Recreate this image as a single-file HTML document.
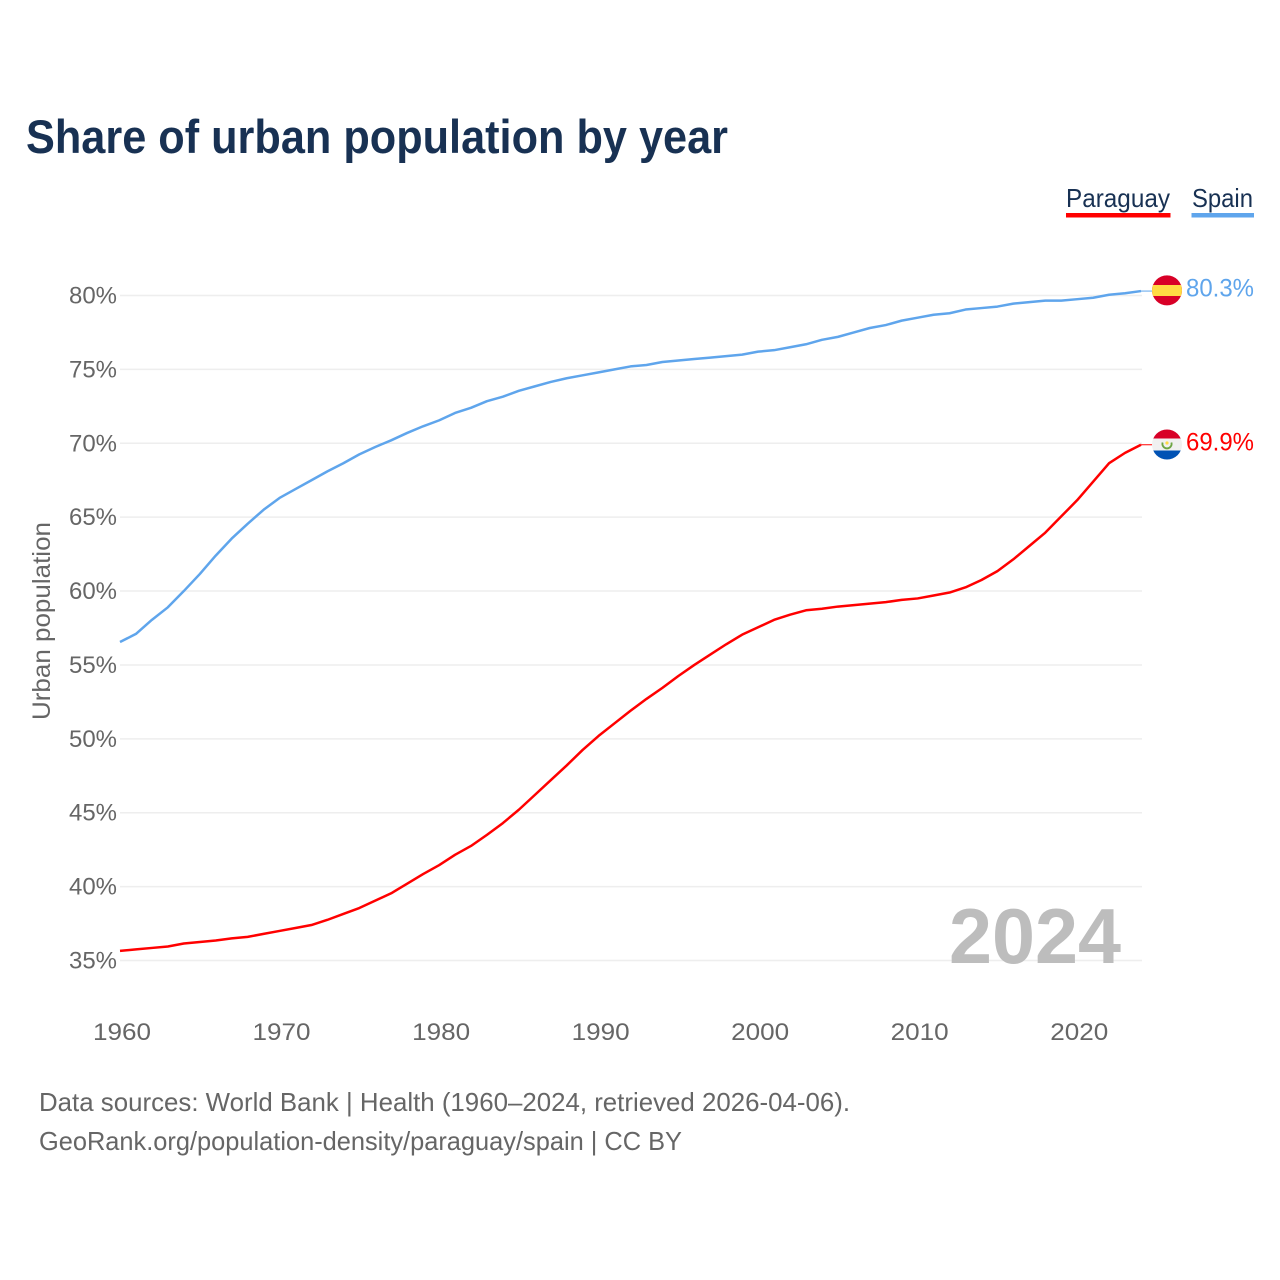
<!DOCTYPE html>
<html lang="en">
<head>
<meta charset="utf-8">
<title>Share of urban population by year</title>
<style>
html,body{margin:0;padding:0;background:#fff;width:1280px;height:1280px;overflow:hidden}
svg{display:block;font-family:"Liberation Sans",sans-serif}
</style>
</head>
<body>
<svg id="chart" xmlns="http://www.w3.org/2000/svg" width="1280" height="1280" viewBox="0 0 1280 1280">
  <rect width="1280" height="1280" fill="#ffffff"/>
  <text x="26" y="153" font-size="47" font-weight="700" fill="#183153" textLength="702" lengthAdjust="spacingAndGlyphs">Share of urban population by year</text>

  <g>
    <g>
      <text x="1066" y="207" font-size="26" fill="#183153" textLength="104" lengthAdjust="spacingAndGlyphs">Paraguay</text>
      <rect x="1066" y="213" width="104.5" height="4.5" fill="#ff0000"/>
    </g>
    <g>
      <text x="1192" y="207" font-size="26" fill="#183153" textLength="61" lengthAdjust="spacingAndGlyphs">Spain</text>
      <rect x="1191.5" y="213" width="62.5" height="4.5" fill="#5fa5ec"/>
    </g>
  </g>

  <g id="grid"></g>
  <g id="yticks"></g>
  <g id="xticks"></g>

  <text transform="translate(50,621) rotate(-90)" text-anchor="middle" font-size="25" fill="#666666" textLength="198" lengthAdjust="spacingAndGlyphs">Urban population</text>

  <text x="949" y="963" font-size="78" font-weight="700" fill="#bdbdbd" textLength="172" lengthAdjust="spacingAndGlyphs">2024</text>

  <g id="series"></g>

  <g>
    <clipPath id="clip-es"><circle cx="1167" cy="290.4" r="15"/></clipPath>
    <g clip-path="url(#clip-es)">
      <rect x="1152" y="275" width="30" height="31" fill="#d80027"/>
      <rect x="1152" y="285" width="30" height="11" fill="#ffda44"/>
    </g>
  </g>
  <g>
    <clipPath id="clip-py"><circle cx="1167" cy="444.5" r="15"/></clipPath>
    <g clip-path="url(#clip-py)">
      <rect x="1152" y="429" width="30" height="31" fill="#f0f0f0"/>
      <rect x="1152" y="429" width="30" height="9.5" fill="#d80027"/>
      <rect x="1152" y="450.5" width="30" height="10" fill="#0052b4"/>
    </g>
    <path d="M1162.6 442.5a4.6 4.6 0 1 0 8.8 0" fill="none" stroke="#6da544" stroke-width="1.8"/>
    <circle cx="1167" cy="443" r="1.6" fill="#ffda44"/>
  </g>

  <text x="1186" y="296.5" font-size="25" fill="#5fa5ec" textLength="68" lengthAdjust="spacingAndGlyphs">80.3%</text>
  <text x="1186" y="450.5" font-size="25" fill="#ff0000" textLength="68" lengthAdjust="spacingAndGlyphs">69.9%</text>

  <g>
    <text x="39" y="1111" font-size="26" fill="#666666" textLength="811" lengthAdjust="spacingAndGlyphs">Data sources: World Bank | Health (1960–2024, retrieved 2026-04-06).</text>
    <text x="39" y="1150" font-size="26" fill="#666666" textLength="643" lengthAdjust="spacingAndGlyphs">GeoRank.org/population-density/paraguay/spain | CC BY</text>
  </g>
</svg>
<script>
const years = [1960,1961,1962,1963,1964,1965,1966,1967,1968,1969,1970,1971,1972,1973,1974,1975,1976,1977,1978,1979,1980,1981,1982,1983,1984,1985,1986,1987,1988,1989,1990,1991,1992,1993,1994,1995,1996,1997,1998,1999,2000,2001,2002,2003,2004,2005,2006,2007,2008,2009,2010,2011,2012,2013,2014,2015,2016,2017,2018,2019,2020,2021,2022,2023,2024];
const paraguayValues = [35.65,35.75,35.85,35.95,36.15,36.25,36.35,36.5,36.6,36.8,37.0,37.2,37.4,37.75,38.15,38.55,39.05,39.55,40.2,40.85,41.45,42.15,42.75,43.5,44.3,45.2,46.2,47.2,48.2,49.25,50.2,51.05,51.9,52.7,53.45,54.25,55.0,55.7,56.4,57.05,57.55,58.05,58.4,58.7,58.8,58.95,59.05,59.15,59.25,59.4,59.5,59.7,59.9,60.25,60.75,61.35,62.15,63.05,63.95,65.05,66.15,67.4,68.65,69.35,69.9];
const spainValues = [56.55,57.1,58.05,58.9,60.0,61.15,62.4,63.55,64.55,65.5,66.3,66.9,67.5,68.1,68.65,69.25,69.75,70.2,70.7,71.15,71.55,72.05,72.4,72.85,73.15,73.55,73.85,74.15,74.4,74.6,74.8,75.0,75.2,75.3,75.5,75.6,75.7,75.8,75.9,76.0,76.2,76.3,76.5,76.7,77.0,77.2,77.5,77.8,78.0,78.3,78.5,78.7,78.8,79.05,79.15,79.25,79.45,79.55,79.65,79.65,79.75,79.85,80.05,80.15,80.3];
const yTickValues = [35,40,45,50,55,60,65,70,75,80];
const xTickValues = [1960,1970,1980,1990,2000,2010,2020];

const NS = 'http://www.w3.org/2000/svg';
function xScale(year) { return 120 + (year - 1960) * 1021 / 64; }
function yScale(value) { return 960.5 - (value - 35) * 665 / 45; }
function make(tag, attrs) {
  const el = document.createElementNS(NS, tag);
  for (const k in attrs) el.setAttribute(k, attrs[k]);
  return el;
}

const grid = document.getElementById('grid');
const yticks = document.getElementById('yticks');
yTickValues.forEach(function (v) {
  const line = make('line', { x1: 120, x2: 1142, y1: yScale(v), y2: yScale(v), stroke: '#eeeeee', 'stroke-width': 1.5 });
  
  
  grid.appendChild(line);
  const label = make('text', { x: 69, y: yScale(v) + 8, 'font-size': 24, fill: '#666666', textLength: 48, lengthAdjust: 'spacingAndGlyphs' });
  
  
  label.textContent = v + '%';
  yticks.appendChild(label);
});

const xticks = document.getElementById('xticks');
xTickValues.forEach(function (yr) {
  const label = make('text', { x: xScale(yr) + 2 - 29, y: 1040, 'font-size': 24, fill: '#666666', textLength: 58, lengthAdjust: 'spacingAndGlyphs' });
  
  
  label.textContent = yr;
  xticks.appendChild(label);
});

function linePath(values) {
  return values.map(function (v, i) {
    return (i ? 'L' : 'M') + xScale(years[i]).toFixed(2) + ' ' + yScale(v).toFixed(2);
  }).join('');
}
const series = document.getElementById('series');

const paraguayLine = make('path', { d: linePath(paraguayValues), fill: 'none', stroke: '#ff0000', 'stroke-width': 2.5, 'stroke-linejoin': 'round' });


series.appendChild(paraguayLine);

const spainLine = make('path', { d: linePath(spainValues), fill: 'none', stroke: '#5fa5ec', 'stroke-width': 2.5, 'stroke-linejoin': 'round' });


series.appendChild(spainLine);

const lastX = xScale(years[years.length - 1]);
const paraguayLeader = make('line', { x1: lastX, x2: 1152, y1: yScale(paraguayValues[paraguayValues.length - 1]), y2: yScale(paraguayValues[paraguayValues.length - 1]), stroke: '#ff0000', 'stroke-width': 1 });


series.appendChild(paraguayLeader);

const spainLeader = make('line', { x1: lastX, x2: 1152, y1: yScale(spainValues[spainValues.length - 1]), y2: yScale(spainValues[spainValues.length - 1]), stroke: '#5fa5ec', 'stroke-width': 1 });


series.appendChild(spainLeader);
</script>
</body>
</html>
